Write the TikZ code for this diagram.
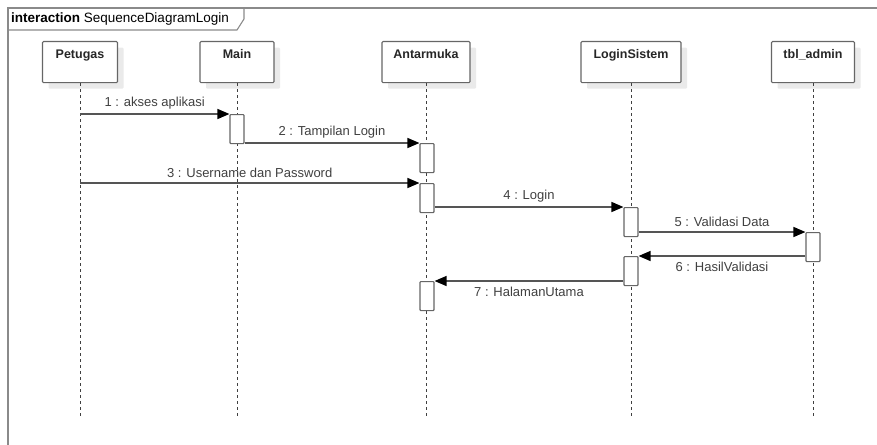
\documentclass[tikz,border=0pt]{standalone}
\usepackage{fontspec}
\setmainfont{Liberation Sans}
\usetikzlibrary{arrows.meta,shadows}
\definecolor{framegray}{HTML}{8A8A8A}
\definecolor{boxgray}{HTML}{666666}
\definecolor{msggray}{HTML}{555555}
\definecolor{textgray}{HTML}{404040}
\definecolor{shadowgray}{HTML}{EAEAEA}
\begin{document}
\begin{tikzpicture}[x=1pt,y=-1pt,
  participant/.style={draw=boxgray, line width=1.1pt, fill=white, rounded corners=1pt,
    minimum height=41pt, inner sep=0pt, anchor=north,
    drop shadow={shadow xshift=6pt, shadow yshift=-6pt, fill=shadowgray, opacity=1}},
  plabel/.style={font=\fontsize{12.5}{14}\selectfont\bfseries, text=black!85, anchor=north, yshift=-5pt},
  activation/.style={draw=boxgray, line width=1.1pt, fill=white, rounded corners=0.8pt,
    minimum width=14pt, minimum height=29pt, inner sep=0pt, anchor=north},
  lifeline/.style={draw=black!75, line width=0.8pt, dash pattern=on 3pt off 3pt},
  msg/.style={draw=msggray, line width=1.3pt,
    -{Triangle[length=12pt,width=10pt,color=black,fill=black]}},
  msgtext/.style={font=\fontsize{13}{15}\selectfont, text=textgray},
]
\useasboundingbox (0,0) rectangle (877,444);

% interaction frame with its name tab
\draw[framegray, line width=1.6pt] (8,450) -- (8,8) -- (885,8);
\draw[framegray, line width=1.1pt] (8,30) -- (237,30) -- (244,19) -- (244,8);
\node[anchor=west, text=black, inner sep=0pt] (frametitle) at (11,19)
  {\fontsize{13.5}{15}\selectfont\textbf{interaction} SequenceDiagramLogin};

% participants
\node[participant, minimum width=75pt] (petugas) at (80,41) {};
\node[participant, minimum width=74pt] (main) at (237,41) {};
\node[participant, minimum width=88pt] (antarmuka) at (426,41) {};
\node[participant, minimum width=100pt] (login) at (631,41) {};
\node[participant, minimum width=83pt] (admin) at (813,41) {};
\node[plabel] (petugaslbl) at (petugas.north) {Petugas};
\node[plabel] (mainlbl) at (main.north) {Main};
\node[plabel] (antarmukalbl) at (antarmuka.north) {Antarmuka};
\node[plabel] (loginlbl) at (login.north) {LoginSistem};
\node[plabel] (adminlbl) at (admin.north) {tbl\_admin};

% lifelines
\coordinate (lifeend) at (0,419);
\foreach \p in {petugas,main,antarmuka,login,admin}
  \draw[lifeline] (\p.south) -- (\p.south |- lifeend);

% activation bars
\node[activation] (mainact) at (237,114) {};
\node[activation] (antact1) at (427,143) {};
\node[activation] (antact2) at (427,183) {};
\node[activation] (loginact1) at (631,207) {};
\node[activation] (adminact) at (813,232) {};
\node[activation] (loginact2) at (631,256) {};
\node[activation] (antact3) at (427,281) {};

% messages
\draw[msg] (petugas.south |- mainact.north) -- node[msgtext, above=1pt] {1 : akses aplikasi} (mainact.north west);
\draw[msg] (mainact.east |- antact1.north) -- node[msgtext, above=1pt] {2 : Tampilan Login} (antact1.north west);
\draw[msg] (petugas.south |- antact2.north) -- node[msgtext, above=1pt] {3 : Username dan Password} (antact2.north west);
\draw[msg] (antact2.east |- loginact1.north) -- node[msgtext, above=1pt] {4 : Login} (loginact1.north west);
\draw[msg] (loginact1.east |- adminact.north) -- node[msgtext, above=1pt] {5 : Validasi Data} (adminact.north west);
\draw[msg] (adminact.west |- loginact2.north) -- node[msgtext, below=2pt] {6 : HasilValidasi} (loginact2.north east);
\draw[msg] (loginact2.west |- antact3.north) -- node[msgtext, below=2pt] {7 : HalamanUtama} (antact3.north east);
\end{tikzpicture}
\end{document}
